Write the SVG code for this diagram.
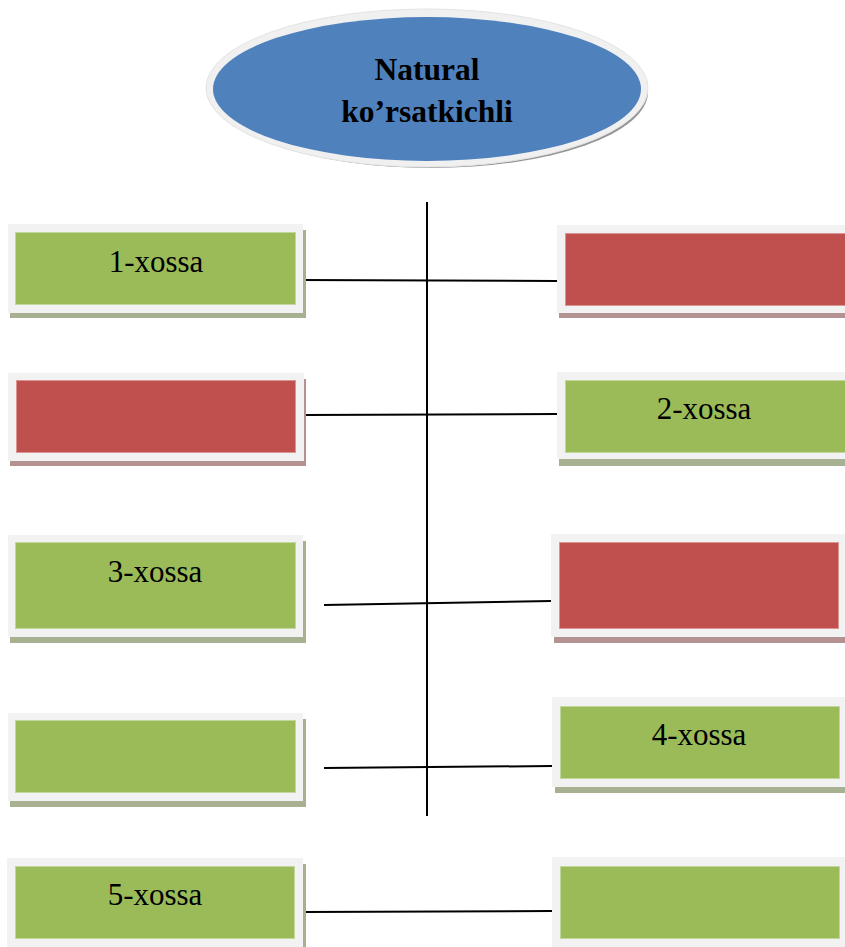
<svg xmlns="http://www.w3.org/2000/svg" width="845" height="947" viewBox="0 0 845 947">
<style>
.frame{fill:#f2f2f2}
.g{fill:#9bbb59;stroke:#c3d69b;stroke-width:1}
.r{fill:#c0504d;stroke:#d99694;stroke-width:1}
.gs{fill:#a7b091}
.rs{fill:#b39291}
.lbl{font-family:"Liberation Serif","Times New Roman",serif;font-size:31px;fill:#000;text-anchor:middle}
.title{font-family:"Liberation Serif","Times New Roman",serif;font-size:31.5px;font-weight:bold;fill:#000;text-anchor:middle}
.conn{stroke:#000;stroke-width:2;fill:none}
</style>
<rect width="845" height="947" fill="#ffffff"/>
<g id="title">
  <ellipse cx="431" cy="92" rx="217" ry="76" fill="#959595"/>
  <ellipse cx="427" cy="88" rx="221" ry="79" fill="#f0f0f0" stroke="#e4e4e4" stroke-width="1"/>
  <ellipse cx="427" cy="89" rx="214" ry="72" fill="#4f81bd"/>
  <text class="title" x="427" y="80">Natural</text>
  <text class="title" x="427" y="122">ko’rsatkichli</text>
</g>
<g id="connectors">
  <line class="conn" x1="427" y1="202" x2="427" y2="816"/>
  <line class="conn" x1="299" y1="280" x2="557" y2="281"/>
  <line class="conn" x1="304" y1="415" x2="557" y2="414"/>
  <line class="conn" x1="324" y1="605" x2="551" y2="601"/>
  <line class="conn" x1="324" y1="768" x2="552" y2="766"/>
  <line class="conn" x1="304" y1="912" x2="552" y2="911"/>
</g>
<g id="box-l1">
  <rect class="gs" x="10" y="230" width="296" height="88"/>
  <rect class="frame" x="8" y="224" width="295" height="89"/>
  <rect class="g" x="15.5" y="232.5" width="280" height="72"/>
  <text class="lbl" x="156" y="272">1-xossa</text>
</g>
<g id="box-r1">
  <rect class="rs" x="559" y="230" width="290" height="88"/>
  <rect class="frame" x="557" y="225" width="292" height="88"/>
  <rect class="r" x="565.5" y="233.5" width="284" height="72"/>
</g>
<g id="box-l2">
  <rect class="rs" x="10" y="379" width="296" height="87"/>
  <rect class="frame" x="8" y="373" width="296" height="88"/>
  <rect class="r" x="16.5" y="380.5" width="279" height="72"/>
</g>
<g id="box-r2">
  <rect class="gs" x="559" y="378" width="290" height="88"/>
  <rect class="frame" x="557" y="372" width="292" height="87"/>
  <rect class="g" x="565.5" y="380.5" width="284" height="72"/>
  <text class="lbl" x="704" y="419">2-xossa</text>
</g>
<g id="box-l3">
  <rect class="gs" x="10" y="541" width="296" height="102"/>
  <rect class="frame" x="8" y="535" width="295" height="102"/>
  <rect class="g" x="15.5" y="542.5" width="280" height="86"/>
  <text class="lbl" x="155" y="582">3-xossa</text>
</g>
<g id="box-r3">
  <rect class="rs" x="554" y="540" width="295" height="103"/>
  <rect class="frame" x="551" y="534" width="298" height="103"/>
  <rect class="r" x="559.5" y="542.5" width="279" height="86"/>
</g>
<g id="box-l4">
  <rect class="gs" x="10" y="719" width="296" height="88"/>
  <rect class="frame" x="8" y="713" width="295" height="88"/>
  <rect class="g" x="15.5" y="720.5" width="280" height="72"/>
</g>
<g id="box-r4">
  <rect class="gs" x="555" y="703" width="294" height="90"/>
  <rect class="frame" x="552" y="697" width="297" height="90"/>
  <rect class="g" x="560.5" y="706.5" width="279" height="72"/>
  <text class="lbl" x="699" y="745">4-xossa</text>
</g>
<g id="box-l5">
  <rect class="gs" x="10" y="864" width="296" height="90"/>
  <rect class="frame" x="7" y="858" width="296" height="90"/>
  <rect class="g" x="15.5" y="866.5" width="279" height="72"/>
  <text class="lbl" x="155" y="905">5-xossa</text>
</g>
<g id="box-r5">
  <rect class="frame" x="552" y="857" width="297" height="91"/>
  <rect class="g" x="560.5" y="866.5" width="279" height="72"/>
</g>
</svg>
